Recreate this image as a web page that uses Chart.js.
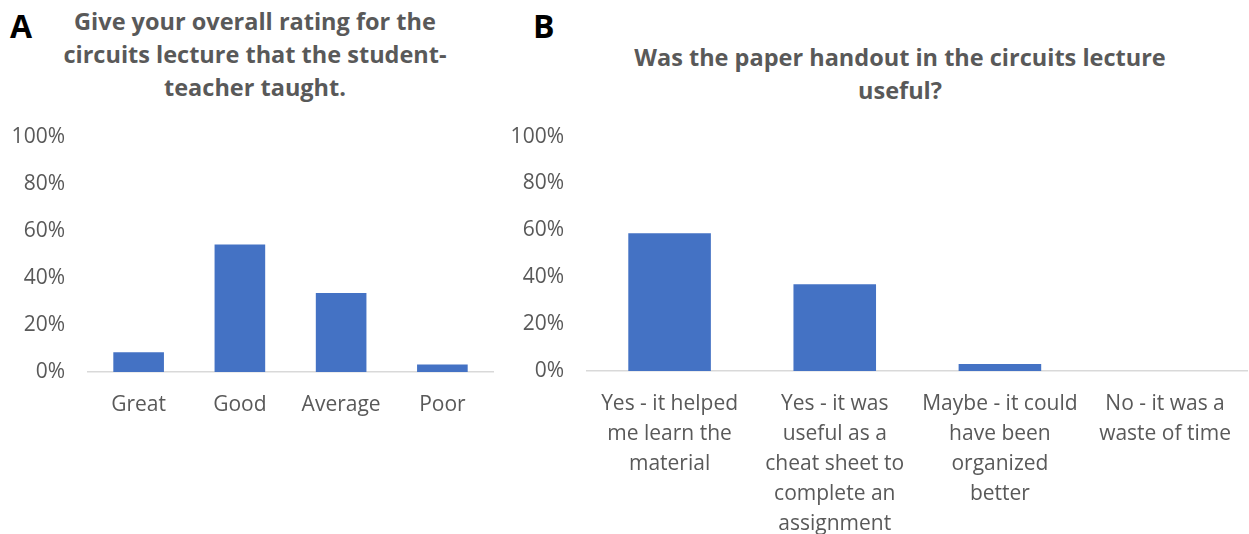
<!DOCTYPE html>
<html>
<head>
<meta charset="utf-8">
<script src="https://cdn.jsdelivr.net/npm/chart.js@4.4.0/dist/chart.umd.min.js"></script>
<style>
  body { margin: 0; width: 1249px; height: 534px; background: #fff; position: relative; overflow: hidden; font-family: 'Open Sans', sans-serif; }
  .letter { position: absolute; top: 4px; font: bold 32px 'Open Sans', sans-serif; color: #000; }
  .title { position: absolute; text-align: center; font: bold 23.5px/33px 'Open Sans', sans-serif; color: #595959; }
  .box { position: absolute; top: 101px; height: 433px; }
</style>
</head>
<body>
<div class="letter" style="left:10px">A</div>
<div class="letter" style="left:533px">B</div>
<div class="title" style="left:30px;width:450px;top:5px">Give your overall rating for the<br>circuits lecture that the student-<br>teacher taught.</div>
<div class="title" style="left:560px;width:680px;top:41px">Was the paper handout in the circuits lecture<br>useful?</div>
<div class="box" style="left:0;width:500px"><canvas id="chartA"></canvas></div>
<div class="box" style="left:500px;width:749px"><canvas id="chartB"></canvas></div>
<script>
/* globals Chart:false */
const ratingLabels = ['Great', 'Good', 'Average', 'Poor']
const ratingValues = [8.4, 54.2, 33.6, 3.2]

const handoutLabels = [
  ['Yes - it helped', 'me learn the', 'material'],
  ['Yes - it was', 'useful as a', 'cheat sheet to', 'complete an', 'assignment'],
  ['Maybe - it could', 'have been', 'organized', 'better'],
  ['No - it was a', 'waste of time']
]
const handoutValues = [58.8, 37.0, 3.0, 0]

const yMin = 0
const yMax = 100
const yStep = 20

const gray = '#595959'
const barColor = '#4472C4'

function makeChart(id, labels, values, yWidth, xHeight, padRight) {
  const ctx = document.getElementById(id)
  return new Chart(ctx, {
    type: 'bar',
    data: {
      labels: labels,
      datasets: [{
        data: values,
        backgroundColor: barColor,
        barPercentage: 0.5,
        categoryPercentage: 1
      }]
    },
    options: {
      responsive: true,
      maintainAspectRatio: false,
      animation: false,
      layout: { padding: { top: 0, right: padRight, left: 0, bottom: 0 } },
      plugins: {
        legend: { display: false },
        tooltip: { enabled: false }
      },
      scales: {
        x: {
          grid: { display: false, drawTicks: false },
          border: { color: '#D9D9D9', width: 1.5 },
          ticks: {
            color: gray,
            font: { family: 'Open Sans', size: 21, lineHeight: 1.43 },
            padding: 18,
            maxRotation: 0,
            autoSkip: false
          },
          afterFit: function (scale) { scale.height = xHeight }
        },
        y: {
          min: yMin,
          max: yMax,
          grid: { display: false, drawTicks: false },
          border: { display: false },
          ticks: {
            stepSize: yStep,
            color: gray,
            font: { family: 'Open Sans', size: 21 },
            padding: 23,
            callback: function (v) { return v + '%' }
          },
          afterFit: function (scale) { scale.width = yWidth }
        }
      }
    }
  })
}

makeChart('chartA', ratingLabels, ratingValues, 88, 162, 7)
makeChart('chartB', handoutLabels, handoutValues, 87, 163, 0)
</script>
</body>
</html>
